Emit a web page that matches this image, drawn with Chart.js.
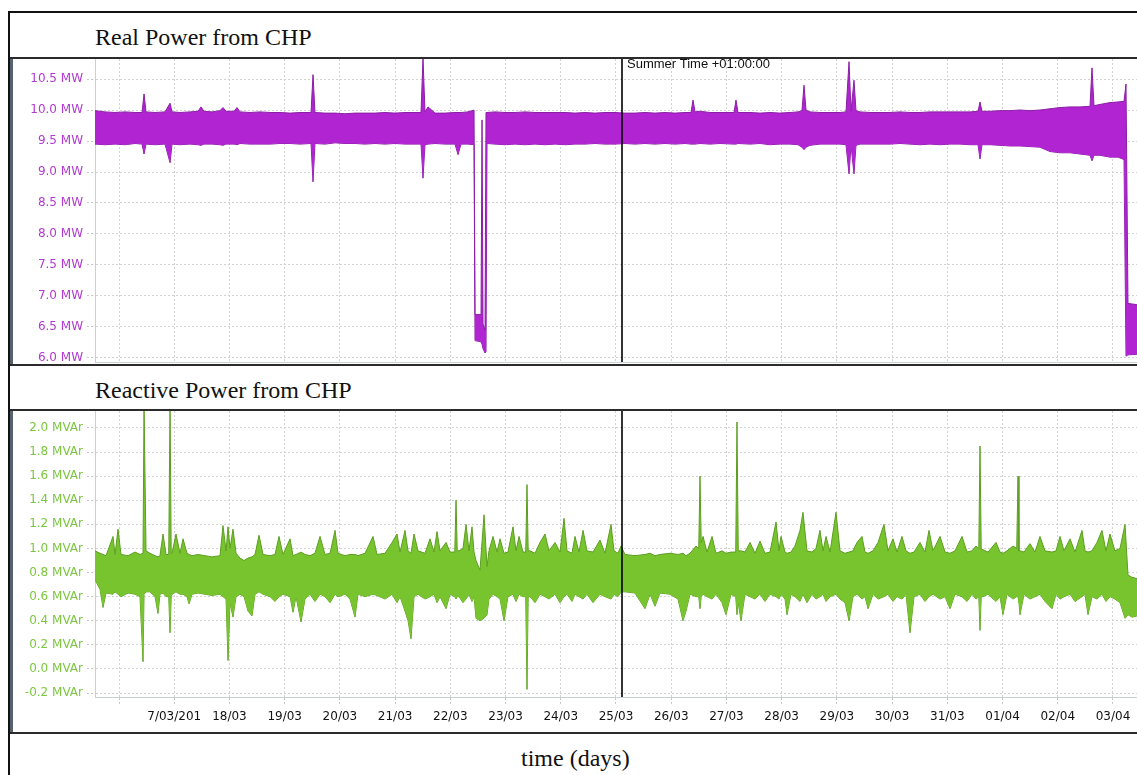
<!DOCTYPE html>
<html>
<head>
<meta charset="utf-8">
<script src="https://cdn.jsdelivr.net/npm/chart.js@4.4.1/dist/chart.umd.min.js"></script>
<style>
  html, body { margin:0; padding:0; background:#fff; overflow:hidden; width:1137px; height:775px; }
  .abs { position:absolute; }
  .hline { position:absolute; left:10px; width:1200px; height:2px; background:#2b2b2b; }
  .strip { position:absolute; left:10px; width:3px; background:#56626e; }
  .ttl { position:absolute; font-family:"Liberation Serif","Times New Roman",serif; font-size:24px; line-height:24px; color:#111; white-space:nowrap; }
</style>
</head>
<body>
<div class="abs" style="left:8px;top:11px;width:1300px;height:800px;border-left:2px solid #111;border-top:2px solid #111;"></div>
<div class="hline" style="top:57px"></div>
<div class="hline" style="top:364px"></div>
<div class="hline" style="top:409px"></div>
<div class="hline" style="top:732px"></div>
<div class="strip" style="top:59px;height:305px"></div>
<div class="strip" style="top:411px;height:321px"></div>
<div class="ttl" style="left:95px;top:25px">Real Power from CHP</div>
<div class="ttl" style="left:95px;top:378px">Reactive Power from CHP</div>
<div class="ttl" style="left:521px;top:746px">time (days)</div>
<canvas id="c1" class="abs" style="left:13px;top:59px" width="1124" height="305"></canvas>
<canvas id="c2" class="abs" style="left:13px;top:411px" width="1124" height="321"></canvas>
<script>
// ---- axis ticks ----
const tickDays = [16,17,18,19,20,21,22,23,24,25,26,27,28,29,30,31,32,33,34];
const tickLabels = ["","7/03/201","18/03","19/03","20/03","21/03","22/03","23/03","24/03","25/03","26/03","27/03","28/03","29/03","30/03","31/03","01/04","02/04","03/04"];
const realTicks = [6.0,6.5,7.0,7.5,8.0,8.5,9.0,9.5,10.0,10.5];
const reacTicks = [-0.2,0.0,0.2,0.4,0.6,0.8,1.0,1.2,1.4,1.6,1.8,2.0];
const summerDay = 25.11;
const summerLabel = "Summer Time +01:00:00";

// ---- Real power (MW): time in days (March; April = 32+), envelope max / min ----
const realT = [15.565,15.746,15.928,16.109,16.290,16.417,16.453,16.489,16.652,16.833,
16.924,16.960,17.105,17.286,17.431,17.485,17.539,17.684,17.829,17.883,
17.938,18.083,18.137,18.191,18.372,18.553,18.735,18.916,19.097,19.278,
19.477,19.513,19.549,19.730,19.912,20.093,20.274,20.455,20.636,20.817,
20.998,21.179,21.360,21.469,21.505,21.541,21.596,21.722,21.904,22.085,
22.139,22.193,22.320,22.429,22.447,22.556,22.574,22.592,22.628,22.646,
22.664,22.809,22.990,23.171,23.352,23.533,23.714,23.896,24.077,24.258,
24.439,24.620,24.801,24.982,25.163,25.344,25.525,25.706,25.888,26.069,
26.250,26.358,26.395,26.431,26.521,26.702,26.884,27.137,27.173,27.210,
27.427,27.608,27.789,27.970,28.151,28.296,28.368,28.405,28.441,28.513,
28.694,28.876,29.057,29.165,29.220,29.256,29.310,29.346,29.419,29.600,
29.781,29.962,30.143,30.324,30.505,30.686,30.868,31.049,31.230,31.411,
31.556,31.592,31.628,31.773,31.954,32.135,32.316,32.497,32.678,32.860,
33.041,33.222,33.403,33.584,33.620,33.656,33.765,33.946,34.091,34.200,
34.236,34.272,34.435];
const realMax = [9.99,9.97,9.96,9.97,9.96,9.96,10.26,9.97,9.96,9.97,
10.11,9.97,9.96,9.97,9.98,10.05,9.98,9.97,9.99,10.04,
9.98,9.98,10.04,9.97,9.96,9.97,9.96,9.96,9.95,9.96,
9.96,10.57,9.96,9.95,9.95,9.94,9.95,9.95,9.95,9.96,
9.95,9.96,9.96,9.96,10.84,9.97,10.05,9.95,9.95,9.96,
9.96,9.96,9.97,10.00,6.70,6.70,9.84,6.55,6.45,9.96,
9.96,9.97,9.96,9.96,9.97,9.96,9.96,9.96,9.96,9.95,
9.96,9.95,9.96,9.96,9.95,9.95,9.96,9.95,9.96,9.95,
9.96,9.96,10.16,9.97,9.98,9.96,9.96,9.96,10.16,9.96,
9.96,9.95,9.96,9.95,9.96,9.97,9.99,10.40,10.00,9.97,
9.96,9.96,9.96,9.97,10.78,9.98,10.48,9.99,9.97,9.96,
9.96,9.96,9.97,9.96,9.96,9.97,9.97,9.97,9.97,9.97,
9.98,10.13,9.98,9.98,9.99,9.99,10.00,9.99,10.00,10.02,
10.04,10.05,10.05,10.06,10.68,10.07,10.09,10.12,10.13,10.14,
10.42,6.88,6.86];
const realMin = [9.45,9.44,9.45,9.44,9.46,9.45,9.29,9.45,9.44,9.45,
9.15,9.45,9.44,9.45,9.44,9.43,9.45,9.45,9.44,9.43,
9.45,9.45,9.44,9.46,9.45,9.45,9.45,9.46,9.46,9.45,
9.46,8.84,9.46,9.45,9.47,9.46,9.46,9.45,9.46,9.45,
9.46,9.45,9.45,9.45,8.90,9.44,9.45,9.46,9.45,9.45,
9.28,9.45,9.45,9.44,6.28,6.26,6.22,6.15,6.08,6.10,
9.46,9.45,9.44,9.45,9.44,9.45,9.44,9.45,9.44,9.45,
9.45,9.46,9.45,9.45,9.46,9.45,9.46,9.45,9.46,9.45,
9.46,9.45,9.45,9.45,9.46,9.45,9.46,9.45,9.45,9.46,
9.45,9.46,9.44,9.45,9.45,9.44,9.40,9.36,9.40,9.43,
9.45,9.45,9.45,9.44,8.97,9.43,8.97,9.43,9.45,9.45,
9.45,9.45,9.46,9.45,9.44,9.45,9.44,9.45,9.45,9.44,
9.44,9.21,9.44,9.44,9.43,9.42,9.42,9.41,9.40,9.33,
9.31,9.31,9.29,9.27,9.18,9.27,9.27,9.24,9.24,9.20,
6.03,6.05,6.06];

// ---- Reactive power (MVAr): time in days, envelope max / min ----
const reacT = [15.565,15.656,15.710,15.765,15.891,15.928,15.982,16.036,16.163,16.290,
16.380,16.435,16.453,16.489,16.561,16.652,16.706,16.742,16.797,16.851,
16.924,16.960,17.032,17.105,17.159,17.231,17.268,17.322,17.431,17.557,
17.684,17.829,17.883,17.938,17.974,18.010,18.064,18.119,18.191,18.264,
18.336,18.408,18.463,18.535,18.608,18.735,18.825,18.897,18.970,19.097,
19.151,19.205,19.296,19.368,19.459,19.549,19.640,19.730,19.821,19.912,
19.966,20.093,20.183,20.274,20.328,20.455,20.600,20.672,20.817,20.944,
21.034,21.089,21.179,21.234,21.288,21.342,21.415,21.541,21.632,21.704,
21.759,21.813,21.922,21.994,22.103,22.157,22.229,22.284,22.338,22.392,
22.429,22.465,22.537,22.610,22.664,22.700,22.773,22.845,22.900,22.972,
23.044,23.135,23.189,23.244,23.316,23.388,23.443,23.533,23.624,23.714,
23.787,23.896,23.986,24.059,24.113,24.203,24.258,24.330,24.403,24.475,
24.584,24.710,24.801,24.910,24.964,25.036,25.091,25.163,25.344,25.525,
25.616,25.706,25.797,25.978,26.123,26.213,26.268,26.340,26.449,26.521,
26.576,26.648,26.739,26.811,26.920,26.992,27.083,27.191,27.264,27.336,
27.427,27.517,27.608,27.698,27.789,27.898,27.952,27.988,28.061,28.097,
28.169,28.241,28.332,28.386,28.459,28.549,28.622,28.694,28.749,28.803,
28.876,28.984,29.057,29.147,29.220,29.292,29.364,29.455,29.509,29.564,
29.654,29.745,29.853,29.926,30.016,30.089,30.179,30.252,30.324,30.397,
30.505,30.596,30.668,30.741,30.868,30.958,31.049,31.139,31.266,31.357,
31.447,31.519,31.592,31.646,31.737,31.882,31.954,32.008,32.081,32.189,
32.280,32.316,32.389,32.497,32.588,32.678,32.769,32.895,32.968,33.041,
33.113,33.222,33.312,33.439,33.493,33.548,33.620,33.710,33.801,33.873,
33.946,34.036,34.127,34.218,34.272,34.345,34.435];
const reacMax = [0.98,0.96,0.95,0.94,1.10,0.95,1.16,0.95,0.94,0.97,
0.95,0.96,2.20,0.98,0.96,0.94,0.93,0.94,1.12,0.95,
2.20,0.96,1.12,0.96,1.08,0.96,0.95,0.94,0.95,0.94,
0.93,0.94,1.19,0.98,1.18,1.00,1.16,0.96,0.92,0.90,
0.92,0.93,0.95,1.11,0.95,0.94,0.95,1.10,0.95,1.08,
0.94,0.95,0.97,0.95,0.94,0.96,1.10,0.95,0.96,1.15,
0.96,0.94,0.95,0.95,0.94,0.96,1.10,0.95,0.96,1.05,
1.12,0.97,1.15,0.98,0.96,1.12,0.98,0.96,1.08,0.97,
1.14,0.98,1.05,0.97,1.40,0.98,1.00,1.20,0.98,1.18,
0.97,0.90,0.82,1.28,0.85,0.98,1.10,0.97,1.08,0.96,
0.97,1.18,0.98,1.10,0.97,1.53,0.98,0.96,1.05,1.12,
0.98,1.05,0.97,1.25,0.98,0.96,1.10,0.97,1.15,0.98,
0.97,1.07,0.96,1.20,0.98,0.96,1.02,0.95,0.94,0.95,
0.96,0.94,0.95,0.96,0.95,0.96,0.94,0.96,1.02,1.60,
1.10,0.97,1.10,0.96,0.98,0.96,0.97,2.05,0.98,0.97,
1.05,0.96,1.06,0.96,0.97,1.22,0.98,1.10,0.97,0.96,
0.97,1.02,1.15,1.30,0.98,0.97,1.00,1.15,0.98,1.10,
0.97,1.30,0.98,0.96,0.97,0.98,1.05,1.10,0.97,0.96,
0.98,1.05,1.20,0.98,1.08,0.97,1.10,0.98,0.96,0.97,
1.05,0.97,1.15,0.98,1.10,0.97,0.96,0.98,1.10,0.97,
0.98,1.02,1.85,0.99,0.97,1.05,0.97,0.96,0.98,1.02,
1.60,0.98,0.97,1.04,0.97,1.10,0.98,0.97,0.98,1.10,
0.98,1.08,0.97,1.15,0.98,0.97,0.98,1.05,1.15,0.98,
1.12,0.98,1.00,1.20,0.78,0.76,0.75];
const reacMin = [0.74,0.66,0.51,0.63,0.62,0.64,0.62,0.60,0.63,0.62,
0.60,0.06,0.62,0.64,0.64,0.60,0.46,0.62,0.63,0.60,
0.30,0.62,0.64,0.62,0.62,0.60,0.54,0.62,0.63,0.62,
0.61,0.62,0.60,0.58,0.07,0.55,0.43,0.60,0.62,0.60,
0.48,0.44,0.62,0.64,0.62,0.60,0.56,0.60,0.62,0.60,
0.47,0.60,0.39,0.58,0.62,0.56,0.62,0.60,0.55,0.62,
0.60,0.62,0.58,0.43,0.62,0.60,0.62,0.61,0.58,0.62,
0.55,0.60,0.48,0.40,0.25,0.60,0.62,0.58,0.60,0.62,
0.55,0.60,0.50,0.62,0.58,0.60,0.55,0.58,0.62,0.56,
0.60,0.42,0.40,0.42,0.45,0.58,0.62,0.60,0.58,0.40,
0.60,0.62,0.56,0.62,0.60,-0.17,0.60,0.55,0.62,0.60,
0.58,0.62,0.55,0.60,0.62,0.56,0.62,0.60,0.58,0.62,
0.55,0.62,0.60,0.58,0.62,0.60,0.64,0.64,0.63,0.50,
0.62,0.52,0.63,0.62,0.58,0.40,0.48,0.62,0.60,0.50,
0.62,0.60,0.58,0.62,0.55,0.45,0.62,0.45,0.40,0.62,
0.60,0.58,0.62,0.56,0.62,0.60,0.58,0.62,0.58,0.45,
0.62,0.60,0.56,0.62,0.55,0.62,0.58,0.60,0.62,0.56,
0.60,0.62,0.58,0.55,0.40,0.60,0.62,0.58,0.60,0.50,
0.62,0.58,0.60,0.62,0.56,0.60,0.58,0.62,0.30,0.60,
0.62,0.56,0.60,0.62,0.58,0.60,0.50,0.62,0.60,0.56,
0.62,0.58,0.32,0.60,0.62,0.56,0.60,0.45,0.62,0.58,
0.60,0.45,0.62,0.58,0.60,0.62,0.56,0.50,0.62,0.58,
0.60,0.62,0.56,0.60,0.62,0.45,0.60,0.58,0.62,0.56,
0.60,0.58,0.55,0.42,0.45,0.43,0.44];
// extra base samples read right beside the tall reactive spikes (keeps spikes narrow)
const reacExtraT   = [16.900,16.945,22.080,22.125,23.365,23.410,26.498,26.543,27.168,27.214,31.570,31.614,32.257,32.298];
const reacExtraMax = [0.95,0.96,0.97,0.98,0.97,0.98,1.00,1.05,0.97,0.98,1.00,0.99,1.00,0.98];
const reacExtraMin = [0.60,0.60,0.60,0.60,0.60,0.60,0.60,0.60,0.60,0.55,0.60,0.60,0.60,0.55];

// ---- build charts ----
Chart.defaults.font.family = '"DejaVu Sans", Verdana, sans-serif';
Chart.defaults.font.size = 12;
const xMin = 15.565, xMax = 34.435;

function pts(t, v) { return t.map((x, i) => ({ x: x, y: v[i] })); }
function merged(t, v, et, ev) { return pts(t, v).concat(pts(et, ev)).sort((a, b) => a.x - b.x); }

const summerPlugin = {
  id: 'summer',
  afterDatasetsDraw(chart, args, opts) {
    const { ctx, chartArea } = chart;
    const px = Math.round(chart.scales.x.getPixelForValue(summerDay));
    ctx.save();
    ctx.strokeStyle = '#000';
    ctx.lineWidth = 1.6;
    ctx.beginPath();
    ctx.moveTo(px, chartArea.top);
    ctx.lineTo(px, chartArea.bottom);
    ctx.stroke();
    if (opts.label) {
      ctx.font = '13px "Liberation Sans", Arial, sans-serif';
      ctx.fillStyle = '#111';
      ctx.textBaseline = 'alphabetic';
      ctx.textAlign = 'left';
      ctx.fillText(opts.label, px + 5, chartArea.top + 9);
    }
    ctx.restore();
  }
};

function makeChart(id, cfg) {
  return new Chart(document.getElementById(id), {
    type: 'line',
    data: {
      datasets: [
        { data: cfg.maxPts, borderColor: cfg.line, backgroundColor: cfg.fill,
          borderWidth: 1, pointRadius: 0, fill: '+1', tension: 0 },
        { data: cfg.minPts, borderColor: cfg.line, backgroundColor: cfg.fill,
          borderWidth: 1, pointRadius: 0, fill: false, tension: 0 }
      ]
    },
    options: {
      responsive: false,
      animation: false,
      devicePixelRatio: 1,
      layout: { padding: 0 },
      plugins: { legend: { display: false }, tooltip: { enabled: false }, summer: { label: cfg.label } },
      scales: {
        x: {
          type: 'linear', min: xMin, max: xMax,
          afterBuildTicks: s => { s.ticks = tickDays.map(v => ({ value: v })); },
          afterFit: s => { s.height = cfg.xHeight; s.paddingLeft = 0; s.paddingRight = 0; },
          ticks: {
            display: cfg.showX, autoSkip: false, maxRotation: 0, padding: 5, color: '#111',
            callback: v => tickLabels[tickDays.indexOf(v)]
          },
          grid: { color: '#d2d2d2', lineWidth: 1, drawTicks: cfg.showX, tickLength: 8,
                  tickColor: '#c4c4c4', tickBorderDash: [2, 2] },
          border: { display: true, color: '#c8d0d8', width: 1, dash: [2, 2] }
        },
        y: {
          type: 'linear', min: cfg.yMin, max: cfg.yMax,
          afterBuildTicks: s => { s.ticks = cfg.ticks.map(v => ({ value: v })); },
          afterFit: s => { s.width = 82; s.paddingTop = 0; s.paddingBottom = 0; },
          ticks: { autoSkip: false, padding: 4, color: cfg.tickColor,
                   callback: v => v.toFixed(1) + ' ' + cfg.unit },
          grid: { color: '#d2d2d2', lineWidth: 1, tickLength: 8,
                  tickColor: '#c4c4c4', tickBorderDash: [2, 2] },
          border: { display: true, color: '#c8d0d8', width: 1, dash: [2, 2] }
        }
      }
    },
    plugins: [summerPlugin]
  });
}

makeChart('c1', {
  maxPts: pts(realT, realMax), minPts: pts(realT, realMin),
  line: '#8c1ea6', fill: '#b024d2', tickColor: '#b23ad0', unit: 'MW',
  yMin: 5.935, yMax: 10.823, ticks: realTicks, showX: false, xHeight: 2, label: summerLabel
});
makeChart('c2', {
  maxPts: merged(reacT, reacMax, reacExtraT, reacExtraMax),
  minPts: merged(reacT, reacMin, reacExtraT, reacExtraMin),
  line: '#5c9e20', fill: '#78c42f', tickColor: '#7cc640', unit: 'MVAr',
  yMin: -0.233, yMax: 2.141, ticks: reacTicks, showX: true, xHeight: 35, label: ''
});
</script>
</body>
</html>
